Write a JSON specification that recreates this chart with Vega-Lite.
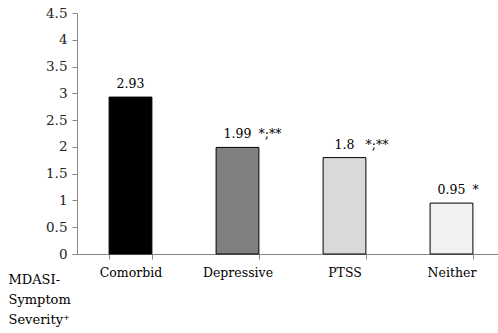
{
  "$schema": "https://vega.github.io/schema/vega-lite/v6.json",
  "autosize": "none",
  "width": 428,
  "height": 241,
  "padding": {"left": 77, "top": 13, "right": 0, "bottom": 79},
  "background": "white",
  "config": {"view": {"stroke": null}, "font": "DejaVu Serif"},
  "data": {"values": [
    {"group": "Comorbid", "value": 2.93, "label": "2.93", "stars": ""},
    {"group": "Depressive", "value": 1.99, "label": "1.99", "stars": "*;**"},
    {"group": "PTSS", "value": 1.8, "label": "1.8", "stars": "*;**"},
    {"group": "Neither", "value": 0.95, "label": "0.95", "stars": "*"}
  ]},
  "encoding": {
    "x": {"field": "group", "type": "nominal", "sort": null,
      "scale": {"paddingInner": 0.6, "paddingOuter": 0.3},
      "axis": {"title": null, "labelAngle": 0, "labelFont": "DejaVu Serif", "labelFontSize": 12.5, "labelColor": "black", "labelPadding": 7,
        "domainColor": "#888888", "tickColor": "#888888", "tickBand": "extent", "tickSize": 5}},
    "y": {"field": "value", "type": "quantitative",
      "scale": {"domain": [0, 4.5]},
      "axis": {"values": [0, 0.5, 1, 1.5, 2, 2.5, 3, 3.5, 4, 4.5], "format": ".1~f", "grid": false, "labelFont": "DejaVu Serif", "labelFontSize": 13.5, "labelColor": "#222222", "labelPadding": 5,
        "domainColor": "#888888", "tickColor": "#888888", "tickSize": 5,
        "title": ["MDASI-", "Symptom", "Severity\u207a"], "titleFont": "DejaVu Serif", "titleAngle": 0, "titleAlign": "left", "titleBaseline": "alphabetic",
        "titleX": -69, "titleY": 270, "titleFontSize": 13, "titleFontWeight": "normal", "titleColor": "black", "titleLineHeight": 20}}
  },
  "layer": [
    {"mark": {"type": "bar", "stroke": "black", "strokeWidth": 1},
      "encoding": {"color": {"field": "group", "type": "nominal", "legend": null,
        "scale": {"domain": ["Comorbid", "Depressive", "PTSS", "Neither"], "range": ["#000000", "#808080", "#d9d9d9", "#f2f2f2"]}}}},
    {"mark": {"type": "text", "dy": -13, "fontSize": 12.5, "font": "DejaVu Serif", "color": "black"},
      "encoding": {"text": {"field": "label"}}},
    {"mark": {"type": "text", "dy": -13, "dx": 21, "align": "left", "fontSize": 12.5, "font": "DejaVu Serif", "color": "black"},
      "encoding": {"text": {"field": "stars"}}}
  ]
}
